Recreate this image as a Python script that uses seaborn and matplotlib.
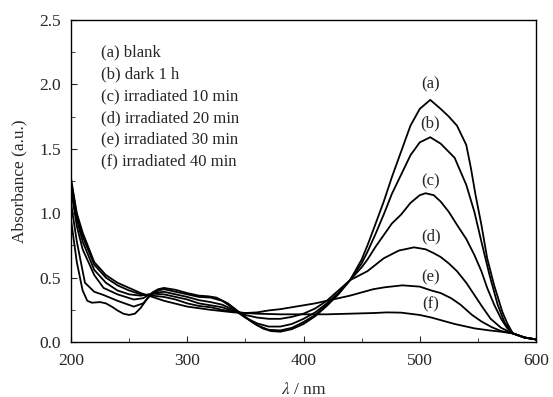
import numpy as np
import pandas as pd
import matplotlib
matplotlib.use('Agg')
import matplotlib.pyplot as plt
import seaborn as sns
from matplotlib.ticker import MultipleLocator

# spectra (wavelength in nm, absorbance in a.u.)
wl_a = [200, 205, 210, 214, 218, 225, 230, 235, 240, 245, 250, 255, 260, 265, 270, 275, 280, 290, 300, 310,
        318, 325, 335, 345, 355, 365, 372, 380, 390, 400, 410, 420, 430, 440, 450, 455, 460, 469, 476, 484,
        492, 500, 509, 518, 525, 532, 540, 544, 548, 553, 558, 564, 571, 575, 580, 590, 600]
abs_a = [0.95, 0.62, 0.40, 0.32, 0.305, 0.31, 0.30, 0.275, 0.245, 0.22, 0.21, 0.22, 0.265, 0.33, 0.385, 0.41, 0.42, 0.405, 0.38, 0.36,
         0.355, 0.345, 0.30, 0.23, 0.16, 0.105, 0.085, 0.08, 0.10, 0.14, 0.20, 0.28, 0.37, 0.48, 0.64, 0.75, 0.87, 1.09, 1.28, 1.48,
         1.68, 1.81, 1.88, 1.81, 1.75, 1.68, 1.53, 1.35, 1.14, 0.91, 0.65, 0.44, 0.235, 0.15, 0.067, 0.035, 0.02]

wl_b = [200, 205, 212, 220, 228, 240, 254, 262, 268, 275, 280, 290, 300, 310, 320, 330, 340, 350, 360, 370,
        380, 390, 400, 410, 420, 430, 440, 450, 455, 462, 469, 476, 484, 492, 500, 509, 518, 530, 540, 547,
        553, 560, 567, 573, 580, 590, 600]
abs_b = [1.08, 0.78, 0.46, 0.39, 0.365, 0.32, 0.275, 0.30, 0.36, 0.40, 0.41, 0.39, 0.37, 0.35, 0.345, 0.32, 0.26, 0.19, 0.13, 0.095,
         0.09, 0.11, 0.155, 0.21, 0.29, 0.38, 0.48, 0.61, 0.70, 0.84, 0.99, 1.15, 1.30, 1.45, 1.55, 1.59, 1.54, 1.43, 1.22, 1.01,
         0.78, 0.52, 0.29, 0.15, 0.067, 0.035, 0.02]

wl_c = [200, 205, 210, 220, 228, 240, 254, 262, 270, 280, 290, 300, 310, 320, 330, 340, 350, 360, 370, 380,
        390, 400, 410, 420, 430, 440, 450, 455, 462, 469, 476, 484, 492, 500, 505, 512, 518, 525, 532, 540,
        547, 553, 558, 564, 570, 575, 580, 590, 600]
abs_c = [1.18, 0.90, 0.72, 0.52, 0.42, 0.37, 0.33, 0.34, 0.38, 0.39, 0.37, 0.35, 0.325, 0.31, 0.29, 0.25, 0.19, 0.145, 0.12, 0.12,
         0.14, 0.18, 0.23, 0.30, 0.38, 0.48, 0.58, 0.64, 0.74, 0.83, 0.92, 0.99, 1.08, 1.14, 1.155, 1.14, 1.09, 1.01, 0.91, 0.80,
         0.675, 0.55, 0.42, 0.29, 0.18, 0.11, 0.067, 0.035, 0.02]

wl_d = [200, 205, 210, 220, 230, 240, 250, 260, 270, 280, 290, 300, 310, 320, 330, 340, 350, 360, 370, 380,
        390, 400, 410, 420, 430, 440, 455, 469, 482, 495, 505, 512, 518, 525, 532, 540, 547, 554, 561, 570,
        580, 590, 600]
abs_d = [1.22, 0.95, 0.78, 0.56, 0.46, 0.40, 0.37, 0.36, 0.375, 0.37, 0.35, 0.33, 0.30, 0.285, 0.27, 0.24, 0.21, 0.19, 0.18, 0.18,
         0.195, 0.22, 0.26, 0.32, 0.40, 0.48, 0.55, 0.65, 0.71, 0.735, 0.72, 0.69, 0.66, 0.61, 0.55, 0.46, 0.365, 0.27, 0.18, 0.11,
         0.067, 0.035, 0.02]

wl_e = [200, 205, 210, 220, 230, 240, 250, 260, 270, 280, 290, 300, 310, 320, 330, 340, 350, 360, 370, 380,
        390, 400, 410, 420, 430, 440, 450, 460, 470, 485, 500, 510, 518, 527, 535, 545, 553, 562, 570, 580,
        590, 600]
abs_e = [1.25, 0.98, 0.82, 0.60, 0.50, 0.44, 0.40, 0.37, 0.36, 0.35, 0.33, 0.30, 0.28, 0.27, 0.25, 0.235, 0.225, 0.23, 0.245, 0.255,
         0.27, 0.285, 0.30, 0.32, 0.34, 0.36, 0.385, 0.41, 0.425, 0.44, 0.43, 0.40, 0.38, 0.34, 0.29, 0.21, 0.16, 0.115, 0.085, 0.067,
         0.035, 0.02]

wl_f = [200, 205, 210, 220, 230, 240, 250, 260, 270, 280, 300, 320, 340, 360, 380, 400, 420, 440, 460, 472,
        484, 500, 510, 518, 530, 547, 560, 570, 580, 590, 600]
abs_f = [1.27, 1.00, 0.85, 0.62, 0.52, 0.46, 0.42, 0.38, 0.35, 0.32, 0.275, 0.25, 0.23, 0.22, 0.215, 0.215, 0.215, 0.22, 0.225, 0.23,
         0.228, 0.21, 0.19, 0.17, 0.14, 0.106, 0.09, 0.08, 0.067, 0.035, 0.02]

curve_ids = ['a', 'b', 'c', 'd', 'e', 'f']
legend_lines = ['(a) blank', '(b) dark 1 h', '(c) irradiated 10 min',
                '(d) irradiated 20 min', '(e) irradiated 30 min', '(f) irradiated 40 min']
# label placement (wavelength, absorbance) above each peak
label_pos = [(509, 2.00), (509, 1.70), (509, 1.25), (510, 0.82), (509, 0.50), (509, 0.29)]

frames = []
for cid, wl, ab in zip(curve_ids, [wl_a, wl_b, wl_c, wl_d, wl_e, wl_f],
                       [abs_a, abs_b, abs_c, abs_d, abs_e, abs_f]):
    frames.append(pd.DataFrame({'wl': wl, 'A': ab, 'curve': cid}))
df = pd.concat(frames, ignore_index=True)

sns.set_style('ticks')
plt.rcParams['font.family'] = ['Liberation Serif', 'DejaVu Serif']
plt.rcParams['mathtext.fontset'] = 'stix'

fig = plt.figure(figsize=(5.53, 3.97), dpi=100)
ax = fig.add_axes([0.1284, 0.1385, 0.8409, 0.8111])

for cid in curve_ids:
    sub = df[df['curve'] == cid]
    sns.lineplot(data=sub, x='wl', y='A', color='black', linewidth=1.3, ax=ax,
                 sort=False, estimator=None)

for (x, y), cid in zip(label_pos, curve_ids):
    ax.text(x, y, f'({cid})', ha='center', va='center', fontsize=12)

for i, line in enumerate(legend_lines):
    ax.text(0.065, 0.90 - i * 0.068, line, transform=ax.transAxes,
            ha='left', va='center', fontsize=12)

ax.set_xlim(200, 600)
ax.set_ylim(0, 2.5)
ax.xaxis.set_major_locator(MultipleLocator(100))
ax.xaxis.set_minor_locator(MultipleLocator(50))
ax.yaxis.set_major_locator(MultipleLocator(0.5))
ax.yaxis.set_minor_locator(MultipleLocator(0.25))
ax.yaxis.set_major_formatter(matplotlib.ticker.FormatStrFormatter('%.1f'))
ax.tick_params(which='both', direction='in', top=False, right=False, labelsize=12.5)
ax.tick_params(axis='x', which='major', pad=8)
ax.tick_params(axis='y', which='major', pad=7)
ax.tick_params(which='major', length=4)
ax.tick_params(which='minor', length=3)
for s in ax.spines.values():
    s.set_linewidth(1.0)
    s.set_color('black')

ax.set_xlabel(r'$\lambda$ / nm', fontsize=12.5, labelpad=9)
ax.set_ylabel('Absorbance (a.u.)', fontsize=12.5, labelpad=9)

fig.savefig('out.png', dpi=100, facecolor='white')
